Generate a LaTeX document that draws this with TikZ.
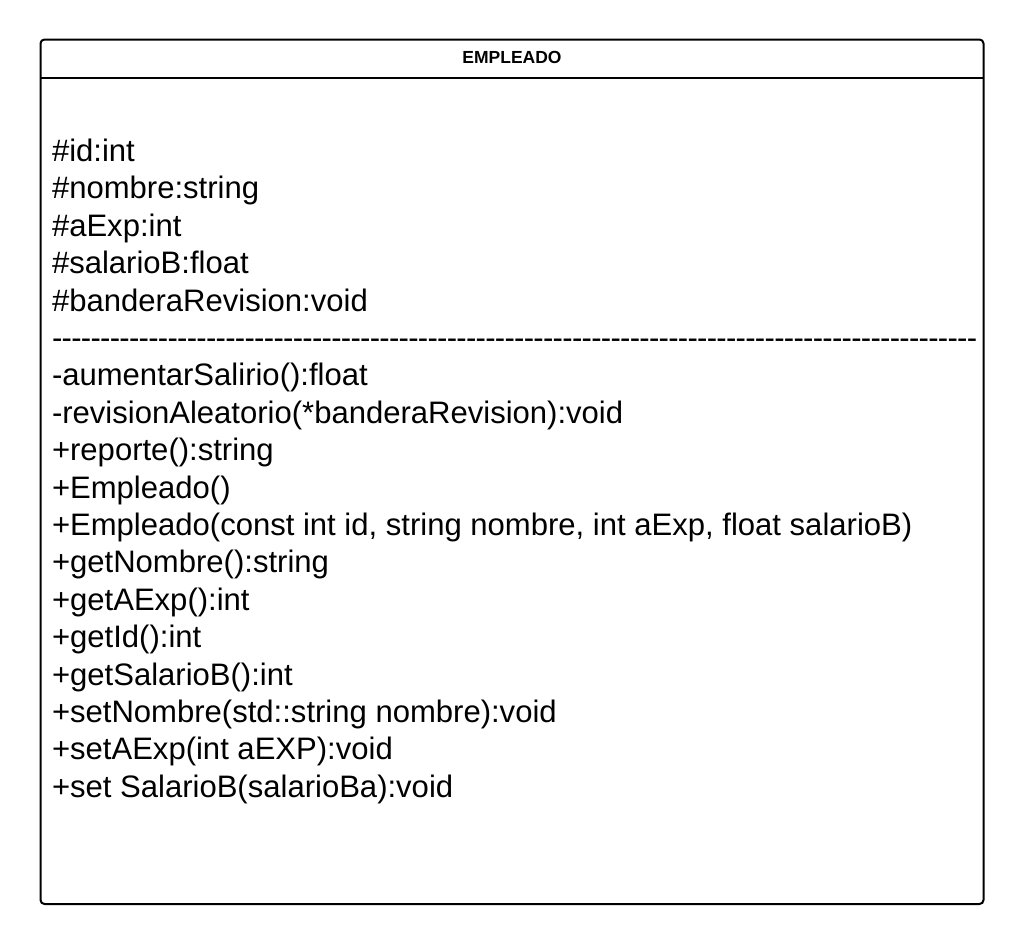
\documentclass[tikz,border=0pt]{standalone}
\usepackage{fontspec}
\setmainfont{Liberation Sans}
\newcommand\dashrowtext{\foreach \k in {1,...,96}{-\kern-0.71bp}}
\begin{document}
\begin{tikzpicture}[x=1bp,y=-1bp,
  frame/.style={draw=black,line width=2bp,rounded corners=4bp},
  sepline/.style={draw=black,line width=2bp},
  member/.style={anchor=base west,inner sep=0pt,outer sep=0pt,font=\fontsize{31.05bp}{37.4bp}\selectfont},
  title/.style={anchor=center,inner sep=0pt,font=\fontsize{17.5bp}{20bp}\selectfont\bfseries}]
\useasboundingbox (0,0) rectangle (1025,944);
\draw[frame] (40.5,39.5) rectangle (983.5,904);
\coordinate (hl) at (40.5,77.7);
\coordinate (hr) at (983.5,77.7);
\draw[sepline] (hl) -- (hr);
\node[title] (t) at (512,57.5) {EMPLEADO};
\foreach \i/\txt in {0/{\#id:int},1/{\#nombre:string},2/{\#aExp:int},3/{\#salarioB:float},4/{\#banderaRevision:void},
  5/{\dashrowtext},
  6/{-aumentarSalirio():float},7/{-revisionAleatorio(*banderaRevision):void},8/{+reporte():string},9/{+Empleado()},
  10/{+Empleado(const int id, string nombre, int aExp, float salarioB)},11/{+getNombre():string},12/{+getAExp():int},
  13/{+getId():int},14/{+getSalarioB():int},15/{+setNombre(std::string nombre):void},16/{+setAExp(int aEXP):void},
  17/{+set SalarioB(salarioBa):void}}
  \node[member] (m\i) at (52,161.5+37.4*\i) {\txt};
\end{tikzpicture}
\end{document}
